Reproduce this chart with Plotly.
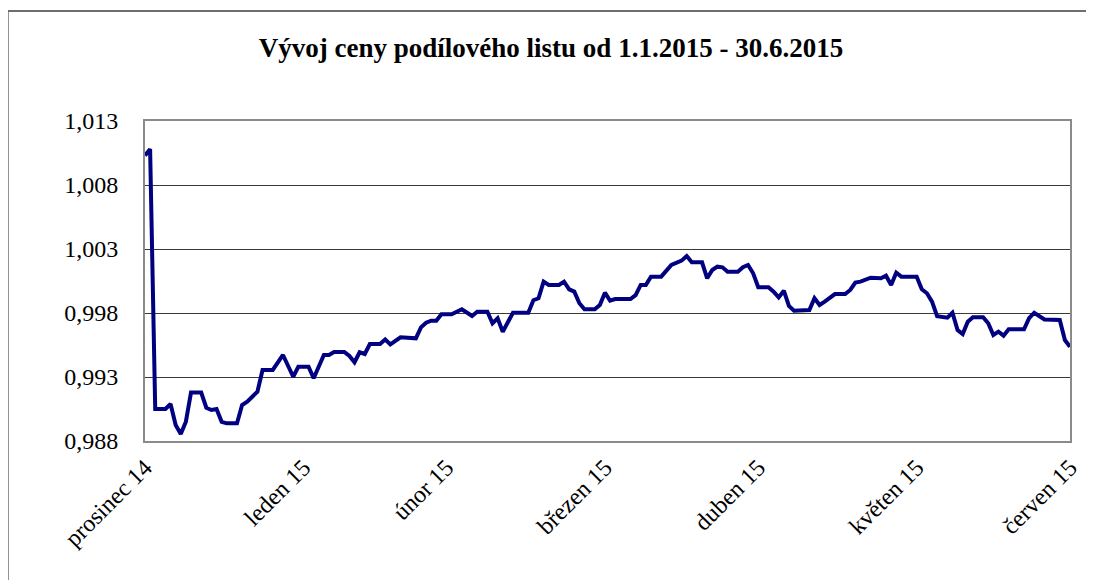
import plotly.graph_objects as go

# Data (date, unit price)
dates = [
    "2014-12-31", "2015-01-01", "2015-01-02", "2015-01-04", "2015-01-05", "2015-01-06",
    "2015-01-07", "2015-01-08", "2015-01-09", "2015-01-11", "2015-01-12", "2015-01-13",
    "2015-01-14", "2015-01-15", "2015-01-16", "2015-01-18", "2015-01-19", "2015-01-20",
    "2015-01-22", "2015-01-23", "2015-01-25", "2015-01-27", "2015-01-29", "2015-01-30",
    "2015-02-01", "2015-02-02", "2015-02-04", "2015-02-05", "2015-02-06", "2015-02-08",
    "2015-02-09", "2015-02-10", "2015-02-11", "2015-02-12", "2015-02-13", "2015-02-15",
    "2015-02-16", "2015-02-17", "2015-02-19", "2015-02-22", "2015-02-23", "2015-02-24",
    "2015-02-25", "2015-02-26", "2015-02-27", "2015-03-01", "2015-03-03", "2015-03-05",
    "2015-03-06", "2015-03-08", "2015-03-09", "2015-03-10", "2015-03-11", "2015-03-13",
    "2015-03-16", "2015-03-17", "2015-03-18", "2015-03-19", "2015-03-20", "2015-03-22",
    "2015-03-23", "2015-03-24", "2015-03-25", "2015-03-26", "2015-03-27", "2015-03-29",
    "2015-03-30", "2015-03-31", "2015-04-01", "2015-04-02", "2015-04-05", "2015-04-06",
    "2015-04-07", "2015-04-08", "2015-04-09", "2015-04-11", "2015-04-13", "2015-04-14",
    "2015-04-15", "2015-04-16", "2015-04-17", "2015-04-19", "2015-04-20", "2015-04-21",
    "2015-04-22", "2015-04-23", "2015-04-24", "2015-04-26", "2015-04-27", "2015-04-28",
    "2015-04-29", "2015-04-30", "2015-05-02", "2015-05-03", "2015-05-04", "2015-05-05",
    "2015-05-06", "2015-05-07", "2015-05-10", "2015-05-11", "2015-05-12", "2015-05-13",
    "2015-05-15", "2015-05-17", "2015-05-18", "2015-05-19", "2015-05-20", "2015-05-22",
    "2015-05-24", "2015-05-25", "2015-05-26", "2015-05-27", "2015-05-28", "2015-05-31",
    "2015-06-01", "2015-06-02", "2015-06-03", "2015-06-04", "2015-06-06", "2015-06-07",
    "2015-06-08", "2015-06-09", "2015-06-10", "2015-06-11", "2015-06-13", "2015-06-14",
    "2015-06-15", "2015-06-16", "2015-06-17", "2015-06-18", "2015-06-21", "2015-06-22",
    "2015-06-23", "2015-06-25", "2015-06-28", "2015-06-29", "2015-06-30",
]

prices = [
    1.0103, 1.0108, 0.9905, 0.9905, 0.99089, 0.98925,
    0.98855, 0.98951, 0.99178, 0.99178, 0.9906, 0.99042,
    0.9905, 0.9895, 0.98938, 0.98938, 0.99081, 0.99107,
    0.99185, 0.99355, 0.99355, 0.99472, 0.99302, 0.9938,
    0.9938, 0.9929, 0.99472, 0.99472, 0.99495, 0.99495,
    0.99464, 0.99415, 0.99493, 0.9948, 0.99558, 0.99558,
    0.99594, 0.99555, 0.9961, 0.99602, 0.99688, 0.99724,
    0.9974, 0.9974, 0.9979, 0.9979, 0.99829, 0.99777,
    0.9981, 0.9981, 0.9972, 0.99759, 0.99654, 0.99802,
    0.99802, 0.999, 0.99915, 1.00045, 1.00019, 1.00019,
    1.00045, 0.99985, 0.99967, 0.99876, 0.99829, 0.99829,
    0.99863, 0.99959, 0.99896, 0.99909, 0.99909, 0.9994,
    1.00019, 1.00019, 1.00084, 1.00084, 1.00175, 1.00188,
    1.00209, 1.00245, 1.00196, 1.00196, 1.00071, 1.00136,
    1.00162, 1.00157, 1.00123, 1.00123, 1.00157, 1.00175,
    1.0011, 1.00001, 1.00001, 0.99967, 0.99922, 0.99974,
    0.99855, 0.99818, 0.99823, 0.99915, 0.99863, 0.99889,
    0.99948, 0.99948, 0.9998, 1.00037, 1.00045, 1.00076,
    1.00071, 1.00091, 1.00019, 1.00115, 1.00084, 1.00084,
    0.99985, 0.99954, 0.99889, 0.99775, 0.99763, 0.99802,
    0.99667, 0.99636, 0.99732, 0.99767, 0.99767, 0.9972,
    0.99628, 0.99654, 0.99623, 0.99673, 0.99673, 0.99759,
    0.99802, 0.9975, 0.99745, 0.99589, 0.99537,
]

tick_dates = ["2014-12-31", "2015-01-31", "2015-02-28", "2015-03-31",
              "2015-04-30", "2015-05-31", "2015-06-30"]
tick_labels = ["prosinec 14", "leden 15", "únor 15", "březen 15",
               "duben 15", "květen 15", "červen 15"]

title_text = "Vývoj ceny podílového listu od 1.1.2015 - 30.6.2015"

SERIF = "Times New Roman, Liberation Serif, DejaVu Serif, serif"

fig = go.Figure()
fig.add_trace(go.Scatter(
    x=dates, y=prices, mode="lines",
    line=dict(color="#000080", width=4),
    showlegend=False, hoverinfo="x+y",
))

# page body has an 8px default margin; work in page pixels and shift
OFF = 8
W, H = 1094 - OFF, 580 - OFF
L, R, T, B = 145 - OFF, 1075 - OFF, 121 - OFF, 441 - OFF

fig.update_layout(
    width=W, height=H,
    margin=dict(l=L, r=W - R, t=T, b=H - B, pad=0),
    paper_bgcolor="white", plot_bgcolor="white",
    separators=", ",
    font=dict(family=SERIF, size=22, color="black"),
    title=dict(text="<b>" + title_text + "</b>",
               font=dict(family=SERIF, size=27, color="black"),
               x=(551 - OFF) / W, xanchor="center", xref="container",
               y=1 - (48 - OFF) / H, yanchor="middle", yref="container"),
    xaxis=dict(
        type="date", range=["2014-12-31", "2015-06-30"],
        tickmode="array", tickvals=tick_dates, ticktext=tick_labels,
        tickangle=-45, showgrid=False, zeroline=False,
        showline=True, linecolor="#8a8a8a", linewidth=2, mirror=True,
        ticks="", ticklabelstandoff=1,
        tickfont=dict(family=SERIF, size=24, color="black"),
    ),
    yaxis=dict(
        range=[0.988, 1.013], tickmode="linear", tick0=0.988, dtick=0.005,
        tickformat=".3f", showgrid=True, gridcolor="#3a3a3a", gridwidth=1,
        zeroline=False, showline=True, linecolor="#8a8a8a", linewidth=2,
        mirror=True, ticks="", ticklabelstandoff=20,
        tickfont=dict(family=SERIF, size=24, color="black"),
    ),
)

# outer chart frame (extends past right/bottom edges as in the reference)
fig.add_shape(type="rect", xref="paper", yref="paper",
              x0=(7 - OFF - L) / (R - L), x1=(W + 10 - L) / (R - L),
              y0=(B - (H + 10)) / (B - T), y1=1 + (T - (11 - OFF)) / (B - T),
              line=dict(color="#6e6e6e", width=2), fillcolor="rgba(0,0,0,0)",
              layer="below")

fig.write_html("out.html")
